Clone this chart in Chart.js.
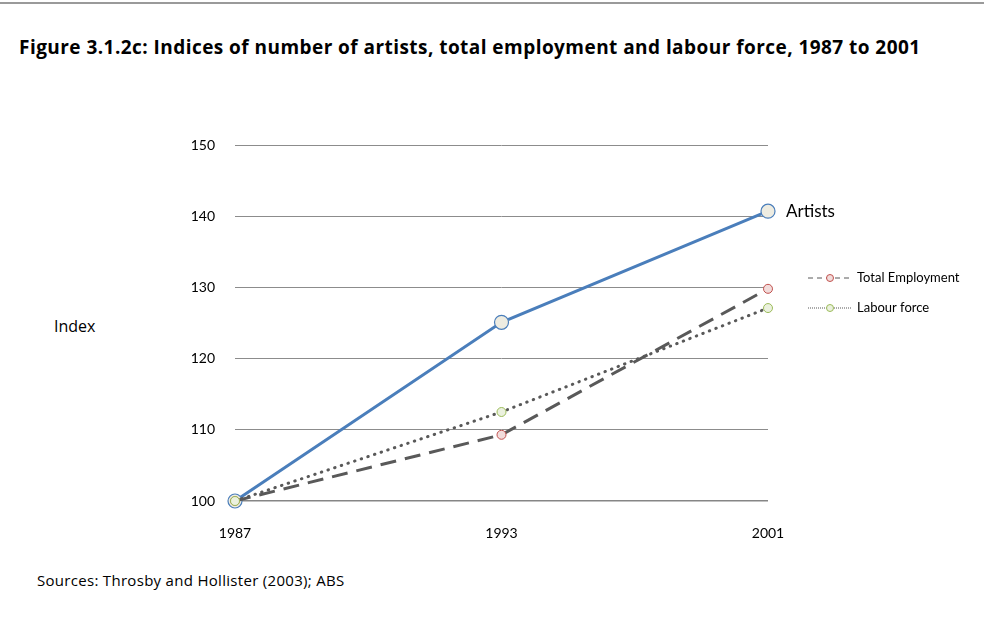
<!DOCTYPE html>
<html>
<head>
<meta charset="utf-8">
<script src="https://cdn.jsdelivr.net/npm/chart.js@4"></script>
<style>
  html, body { margin: 0; padding: 0; background: #fff; }
  body { width: 984px; height: 623px; position: relative; overflow: hidden; font-family: "Open Sans", Lato, sans-serif; color: #000; }
  .topRule { position: absolute; left: 0; top: 2px; width: 984px; height: 2px; background: #9a9a9a; }
  .title { position: absolute; left: 19px; top: 34px; font-size: 19px; font-weight: bold; letter-spacing: 0.45px; white-space: nowrap; }
  .yTitle { position: absolute; left: 54px; top: 315px; font-size: 16px; }
  .source { position: absolute; left: 37px; top: 570px; font-size: 15px; letter-spacing: 0.3px; }
  #wrap { position: absolute; left: 0; top: 0; width: 984px; height: 623px; }
</style>
</head>
<body>
<div class="topRule"></div>
<div class="title">Figure 3.1.2c: Indices of number of artists, total employment and labour force, 1987 to 2001</div>
<div class="yTitle">Index</div>
<div class="source">Sources: Throsby and Hollister (2003); ABS</div>
<div id="wrap"><canvas id="indexChart" width="984" height="623"></canvas></div>
<script>
const years = ["1987", "1993", "2001"];
const artists = [100, 125.1, 140.7];
const totalEmployment = [100, 109.3, 129.8];
const labourForce = [100, 112.5, 127.1];
const yTicks = [100, 110, 120, 130, 140, 150];

const FONT = "Lato, 'Open Sans', sans-serif";

// legend on the right for the two gray series, plus the name next to the last artists point
const sideLabels = {
  id: "sideLabels",
  afterDatasetsDraw(chart) {
    const c = chart.ctx;
    const meta = chart.getDatasetMeta(0);
    const last = meta.data[meta.data.length - 1];
    c.save();
    c.fillStyle = "#000";
    c.font = "17px " + FONT;
    c.textBaseline = "middle";
    c.fillText("Artists", last.x + 18, last.y);

    const items = [
      { ds: chart.data.datasets[1], y: 278 },
      { ds: chart.data.datasets[2], y: 308 },
    ];
    for (const it of items) {
      const x0 = 808, x1 = 852, cx = 830;
      c.strokeStyle = "#595959";
      c.lineWidth = it.ds.legendWidth;
      c.setLineDash(it.ds.legendDash);
      c.beginPath();
      c.moveTo(x0, it.y);
      c.lineTo(x1, it.y);
      c.stroke();
      c.setLineDash([]);
      c.lineWidth = 1;
      c.fillStyle = it.ds.pointBackgroundColor;
      c.strokeStyle = it.ds.pointBorderColor;
      c.beginPath();
      c.arc(cx, it.y, 3.5, 0, Math.PI * 2);
      c.fill();
      c.stroke();
      c.fillStyle = "#000";
      c.font = "13px " + FONT;
      c.fillText(it.ds.label, x1 + 5, it.y);
    }
    c.restore();
  },
};

new Chart(document.getElementById("indexChart"), {
  type: "line",
  data: {
    labels: years,
    datasets: [
      {
        label: "Artists",
        data: artists,
        borderColor: "#4a7ebb",
        borderWidth: 3,
        pointRadius: 7,
        pointBorderWidth: 1.2,
        pointBackgroundColor: "#eeece1",
        pointBorderColor: "#4a7ebb",
        order: 3,
        clip: false,
      },
      {
        label: "Total Employment",
        data: totalEmployment,
        borderColor: "#595959",
        borderWidth: 3,
        borderDash: [16, 9],
        pointRadius: 4.5,
        pointBorderWidth: 1,
        pointBackgroundColor: "#f2dcdb",
        pointBorderColor: "#c0504d",
        legendDash: [5, 4],
        legendWidth: 1,
        order: 2,
        clip: false,
      },
      {
        label: "Labour force",
        data: labourForce,
        borderColor: "#595959",
        borderWidth: 3,
        borderDash: [0.5, 6.5],
        borderCapStyle: "round",
        pointRadius: 4.5,
        pointBorderWidth: 1,
        pointBackgroundColor: "#ebf1de",
        pointBorderColor: "#9bbb59",
        legendDash: [1, 1],
        legendWidth: 1,
        order: 1,
        clip: false,
      },
    ],
  },
  options: {
    responsive: false,
    animation: false,
    layout: { padding: { left: 0, right: 216, top: 145, bottom: 82 } },
    plugins: {
      legend: { display: false },
      tooltip: { enabled: false },
    },
    elements: { line: { tension: 0 } },
    scales: {
      x: {
        offset: false,
        afterFit: (s) => { s.height = 40; },
        grid: { display: false, drawTicks: false },
        border: { display: false },
        ticks: { padding: 24, color: "#000", font: { family: FONT, size: 14 }, maxRotation: 0 },
      },
      y: {
        min: 100,
        max: 150,
        afterFit: (s) => { s.width = 235; },
        afterBuildTicks: (s) => { s.ticks = yTicks.map((v) => ({ value: v })); },
        grid: {
          drawTicks: false,
          color: (ctx) => (ctx.tick && ctx.tick.value === 100 ? "#868686" : "#8c8c8c"),
          lineWidth: (ctx) => (ctx.tick && ctx.tick.value === 100 ? 1.6 : 1),
        },
        border: { display: false },
        ticks: { padding: 20, color: "#000", font: { family: FONT, size: 14 } },
      },
    },
  },
  plugins: [sideLabels],
});
</script>
</body>
</html>
